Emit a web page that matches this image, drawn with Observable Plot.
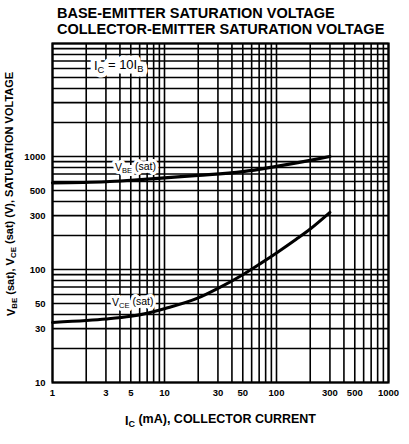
<!DOCTYPE html>
<html>
<head>
<meta charset="utf-8">
<script src="https://cdn.jsdelivr.net/npm/d3@7"></script>
<script src="https://cdn.jsdelivr.net/npm/@observablehq/plot@0.6"></script>
<style>
  html, body { margin: 0; padding: 0; background: #fff; }
  #title {
    height: 38px; box-sizing: border-box; padding: 6px 0 0 57px;
    font-family: "Liberation Sans", Arial, sans-serif; font-weight: bold;
    font-size: 14.5px; line-height: 15.5px; color: #000; white-space: nowrap;
  }
  #chart svg { display: block; }
</style>
</head>
<body>
<div id="title">BASE-EMITTER SATURATION VOLTAGE<br>COLLECTOR-EMITTER SATURATION VOLTAGE</div>
<div id="chart"></div>
<script>
// Tick labels
const xTickLabels = [1, 3, 5, 10, 30, 50, 100, 300, 500, 1000];
const yTickLabels = [10, 30, 50, 100, 300, 500, 1000];

// V_BE(sat) curve vs Ic (mA)
const vbeCurrent = [1, 3, 5, 10, 20, 50, 100, 200, 300];
const vbeVolt    = [585, 598, 616, 648, 680, 735, 819, 925, 1000];

// V_CE(sat) curve vs Ic (mA)
const vceCurrent = [1, 2, 3, 5, 7, 10, 20, 30, 50, 70, 100, 150, 200, 300];
const vceVolt    = [34, 35.3, 36.4, 38.5, 41, 45, 56, 68, 90, 111, 140, 185, 228, 320];

// Annotations
const noteText = "I_{C} = 10I_{B}";
const noteX = 3.9, noteY = 6300;
const curveLabels = ["V_{BE} (sat)", "V_{CE} (sat)"];
const curveLabelX = [5.5, 5.2];
const curveLabelY = [800, 51];

const xLabel = "I_{C} (mA), COLLECTOR CURRENT";
const yLabel = "V_{BE} (sat), V_{CE} (sat) (V), SATURATION VOLTAGE";

const xDomain = [1, 1000];
const yDomain = [10, 10000];

const vbe = vbeCurrent.map((c, i) => ({c, v: vbeVolt[i]}));
const vce = vceCurrent.map((c, i) => ({c, v: vceVolt[i]}));
const curveAnn = curveLabels.map((t, i) => ({t, x: curveLabelX[i], y: curveLabelY[i]}));

const gridXTicks = d3.scaleLog().domain(xDomain).ticks();
const gridYTicks = d3.scaleLog().domain(yDomain).ticks();

const font = "'Liberation Sans', Arial, sans-serif";

const plot = Plot.plot({
  width: 409,
  height: 406,
  marginTop: 5,
  marginLeft: 52,
  marginRight: 21,
  marginBottom: 62,
  style: {fontFamily: font, fontSize: "9.5px", fontWeight: "bold", color: "#000", background: "#fff"},
  x: {type: "log", domain: xDomain, axis: null},
  y: {type: "log", domain: yDomain, axis: null},
  marks: [
    Plot.gridX(gridXTicks, {stroke: "#000", strokeOpacity: 1, strokeWidth: 1.6}),
    Plot.gridY(gridYTicks, {stroke: "#000", strokeOpacity: 1, strokeWidth: 1.6}),
    Plot.frame({stroke: "#000", strokeWidth: 2.2}),
    Plot.text(xTickLabels, {x: d => d, text: d => String(d), frameAnchor: "bottom", dy: 13,
      fontSize: 9.5, fontWeight: "bold"}),
    Plot.text(yTickLabels, {y: d => d, text: d => String(d), frameAnchor: "left", dx: -7,
      textAnchor: "end", fontSize: 9.5, fontWeight: "bold"}),
    Plot.line(vbe, {x: "c", y: "v", stroke: "#000", strokeWidth: 3.2, curve: "monotone-x"}),
    Plot.line(vce, {x: "c", y: "v", stroke: "#000", strokeWidth: 3, curve: "monotone-x"}),
    // white halo layers, then the text itself
    Plot.text([noteText], {x: noteX, y: noteY, fill: "#fff", stroke: "#fff", strokeWidth: 9,
      fontSize: 13, fontWeight: "normal"}),
    Plot.text(curveAnn, {x: "x", y: "y", text: "t", fill: "#fff", stroke: "#fff", strokeWidth: 6,
      fontSize: 10.5, fontWeight: "normal"}),
    Plot.text([noteText], {x: noteX, y: noteY, fill: "#000", fontSize: 13, fontWeight: "normal"}),
    Plot.text(curveAnn, {x: "x", y: "y", text: "t", fill: "#000", fontSize: 10.5, fontWeight: "normal"}),
    Plot.text([xLabel], {frameAnchor: "bottom", textAnchor: "middle", dy: 42, fontSize: 12.5,
      fontWeight: "bold"}),
    Plot.text([yLabel], {frameAnchor: "left", textAnchor: "middle", rotate: -90, dx: -41, dy: -19,
      fontSize: 11, fontWeight: "bold"})
  ]
});

// Convert _{..} markers into subscript tspans
const NS = "http://www.w3.org/2000/svg";
plot.querySelectorAll("text").forEach(t => {
  const s = t.textContent;
  if (!s.includes("_{")) return;
  while (t.firstChild) t.removeChild(t.firstChild);
  const parts = s.split(/(_\{[^}]*\})/);
  let prevSub = false;
  parts.forEach(p => {
    if (!p) return;
    const ts = document.createElementNS(NS, "tspan");
    if (p.startsWith("_{")) {
      ts.textContent = p.slice(2, -1);
      ts.setAttribute("font-size", "0.72em");
      ts.setAttribute("dy", "0.3em");
      prevSub = true;
    } else {
      ts.textContent = p;
      if (prevSub) ts.setAttribute("dy", "-0.3em");
      prevSub = false;
    }
    t.appendChild(ts);
  });
});

document.getElementById("chart").appendChild(plot);
</script>
</body>
</html>
